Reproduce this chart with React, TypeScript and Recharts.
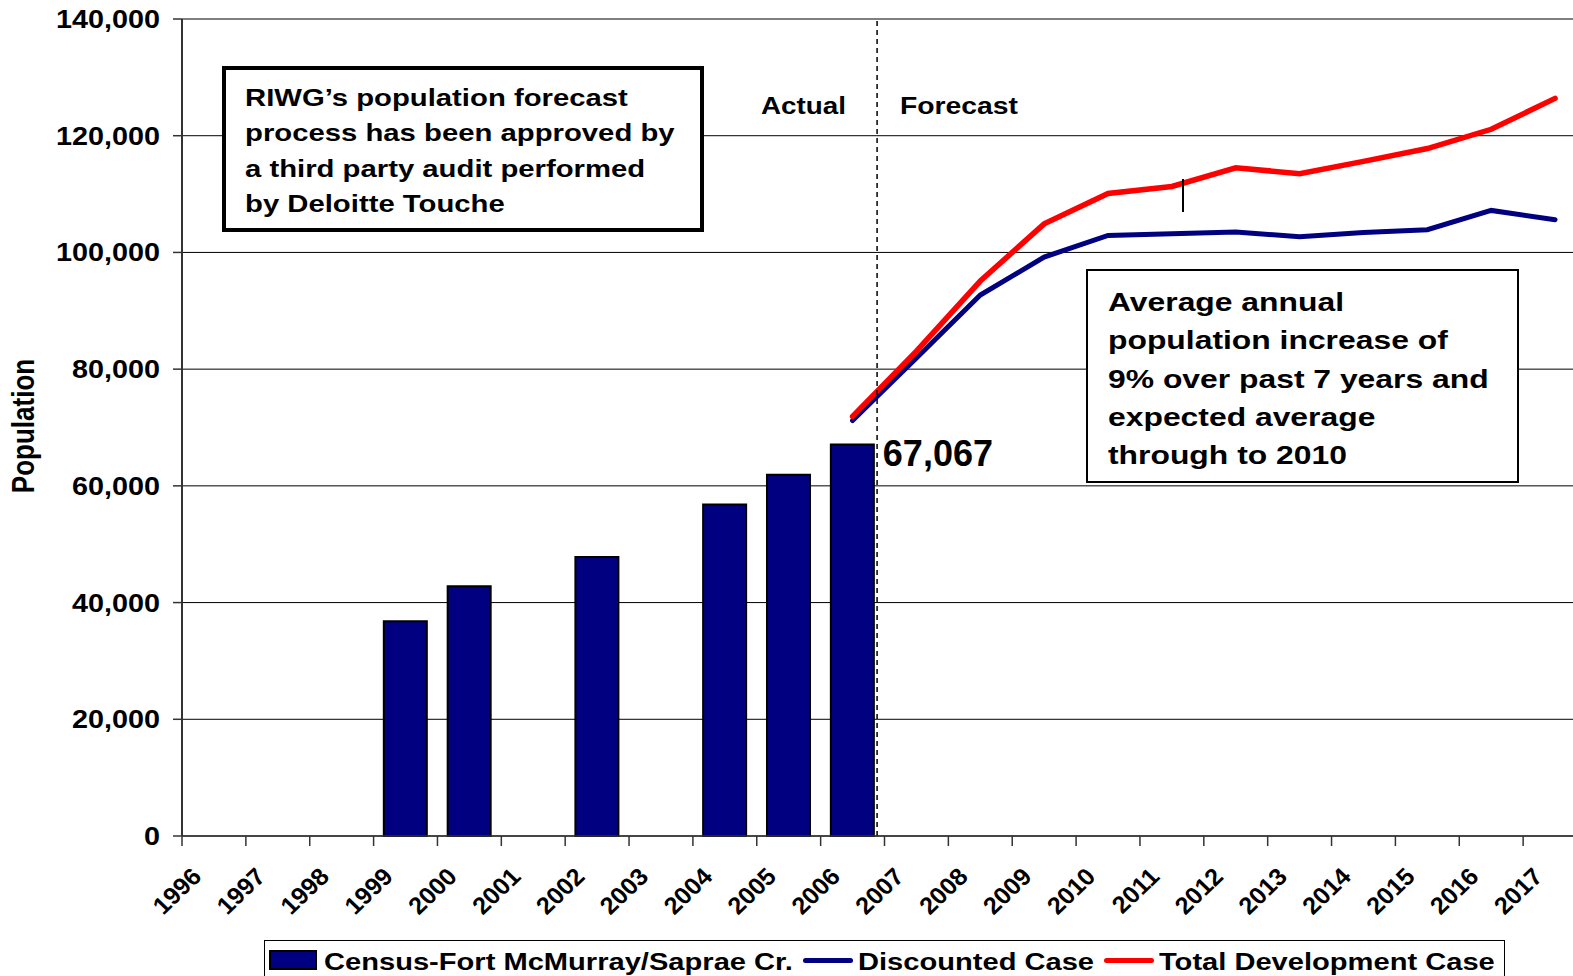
import {
  ComposedChart,
  Bar,
  Line,
  XAxis,
  YAxis,
  CartesianGrid,
  ReferenceLine,
  LabelList,
} from "recharts";

const years = [
  "1996", "1997", "1998", "1999", "2000", "2001", "2002", "2003", "2004", "2005", "2006",
  "2007", "2008", "2009", "2010", "2011", "2012", "2013", "2014", "2015", "2016", "2017",
];

// census counts (actual)
const census = [
  null, null, null, 36800, 42800, null, 47800, null, 56800, 61900, 67067,
  null, null, null, null, null, null, null, null, null, null, null,
];

const discounted = [
  null, null, null, null, null, null, null, null, null, null, 71200,
  81900, 92700, 99200, 102900, 103200, 103500, 102700, 103400, 103900, 107200, 105600,
];

const totalDevelopment = [
  null, null, null, null, null, null, null, null, null, null, 71900,
  83100, 95100, 104900, 110100, 111300, 114500, 113500, 115600, 117800, 121100, 126400,
];

const yTicks = [0, 20000, 40000, 60000, 80000, 100000, 120000, 140000];

const boxLeftLines = [
  "RIWG\u2019s population forecast",
  "process has been approved by",
  "a third party audit performed",
  "by Deloitte Touche",
];

const boxRightLines = [
  "Average annual",
  "population increase of",
  "9% over past 7 years and",
  "expected average",
  "through to 2010",
];

// last actual year; the dashed split sits just before the end of its band
const lastActualYear = "2006";

const data = years.map((year, i) => ({
  year,
  census: census[i],
  discounted: discounted[i],
  totalDevelopment: totalDevelopment[i],
}));

const CHART_W = 1650;
const CHART_H = 976;
const MARGIN = { top: 19, right: 63, left: 0, bottom: 0 };
const Y_AXIS_W = 182;
const X_AXIS_H = 140;
const BAND = (CHART_W - MARGIN.left - MARGIN.right - Y_AXIS_W) / years.length;

const font = '"Liberation Sans", Arial, sans-serif';
const fmt = (v: number) => v.toLocaleString("en-US");

const XTick = (props: any) => {
  const { x, y, payload } = props;
  return (
    <g>
      <line x1={x - BAND / 2} x2={x - BAND / 2} y1={y} y2={y + 10} stroke="#333" strokeWidth={1.5} />
      <text
        transform={`translate(${x - 11},${y + 42}) scale(1.05,1) rotate(-45)`}
        textAnchor="end"
        fontSize={24}
        fontWeight="bold"
        fill="#000"
      >
        {payload.value}
      </text>
    </g>
  );
};

const YTick = (props: any) => {
  const { x, y, payload } = props;
  return (
    <text
      transform={`translate(${x - 11},${y}) scale(1.15,1)`}
      textAnchor="end"
      dy="0.36em"
      fontSize={25}
      fontWeight="bold"
      fill="#000"
    >
      {fmt(payload.value)}
    </text>
  );
};

const SplitLine = (props: any) => {
  const dx = -0.116 * BAND;
  return (
    <line
      x1={props.x1 + dx}
      x2={props.x2 + dx}
      y1={props.y1}
      y2={props.y2}
      stroke="#000"
      strokeWidth={1.5}
      strokeDasharray="5 4"
    />
  );
};

const lastCensus = census[10] as number;

const CensusLabel = (props: any) => {
  const vb = props.viewBox ?? props;
  const { x, y, width } = vb;
  if (props.value !== lastCensus) return null;
  return (
    <text x={x + width + 9} y={y + 21.5} fontSize={36} fontWeight="bold" fill="#000">
      {fmt(props.value)}
    </text>
  );
};

const abs = (left: number, top: number, extra: any = {}) => ({
  position: "absolute" as const,
  left,
  top,
  ...extra,
});

const legendText = {
  fontSize: 23,
  lineHeight: "23px",
  whiteSpace: "pre",
  transform: "scaleX(1.265)",
  transformOrigin: "0 0",
};

export default function App() {
  return (
    <div
      style={{
        position: "fixed",
        left: 0,
        top: 0,
        width: 1573,
        height: 976,
        overflow: "hidden",
        background: "#fff",
        fontFamily: font,
        fontWeight: "bold",
        color: "#000",
      }}
    >
      <ComposedChart width={CHART_W} height={CHART_H} data={data} margin={MARGIN} barCategoryGap="16%">
        <CartesianGrid vertical={false} stroke="#000" strokeWidth={1} />
        <XAxis
          dataKey="year"
          height={X_AXIS_H}
          interval={0}
          tickLine={false}
          tickSize={0}
          tickMargin={0}
          tick={XTick}
          axisLine={{ stroke: "#333", strokeWidth: 1.5 }}
        />
        <YAxis
          width={Y_AXIS_W}
          domain={[0, 140000]}
          ticks={yTicks}
          interval={0}
          tickSize={9}
          tick={YTick}
          tickLine={{ stroke: "#333", strokeWidth: 1.5 }}
          axisLine={{ stroke: "#333", strokeWidth: 2 }}
        />
        <Bar dataKey="census" fill="#000080" stroke="#000" strokeWidth={2} isAnimationActive={false}>
          <LabelList dataKey="census" content={CensusLabel} />
        </Bar>
        <Line
          dataKey="discounted"
          stroke="#000080"
          strokeWidth={5}
          strokeLinecap="round"
          dot={false}
          activeDot={false}
          isAnimationActive={false}
        />
        <Line
          dataKey="totalDevelopment"
          stroke="#ff0000"
          strokeWidth={5.5}
          strokeLinecap="round"
          dot={false}
          activeDot={false}
          isAnimationActive={false}
        />
        <ReferenceLine x={lastActualYear} position="end" shape={SplitLine} />
      </ComposedChart>

      {/* y axis title */}
      <div
        style={abs(22.5 - 100, 426 - 13, {
          width: 200,
          height: 26,
          lineHeight: "26px",
          fontSize: 26,
          textAlign: "center",
          transform: "rotate(-90deg) scaleY(1.2)",
          transformOrigin: "50% 50%",
        })}
      >
        Population
      </div>

      <div style={abs(761, 95, { fontSize: 23, lineHeight: "23px", transform: "scaleX(1.21)", transformOrigin: "0 0", whiteSpace: "pre" })}>
        Actual
      </div>
      <div style={abs(900, 95, { fontSize: 23, lineHeight: "23px", transform: "scaleX(1.23)", transformOrigin: "0 0", whiteSpace: "pre" })}>
        Forecast
      </div>

      {/* stray mark near 2011 */}
      <div style={abs(1182, 179, { width: 2, height: 33, background: "#000" })} />

      <div
        style={abs(222, 66, {
          width: 482,
          height: 166,
          border: "4px solid #000",
          boxSizing: "border-box",
          background: "#fff",
        })}
      >
        <div
          style={abs(19, 10, {
            fontSize: 24,
            lineHeight: "35.4px",
            whiteSpace: "pre",
            transform: "scaleX(1.22)",
            transformOrigin: "0 0",
          })}
        >
          {boxLeftLines.join("\n")}
        </div>
      </div>

      <div
        style={abs(1086, 269, {
          width: 433,
          height: 214,
          border: "2px solid #000",
          boxSizing: "border-box",
          background: "#fff",
        })}
      >
        <div
          style={abs(19.5, 12, {
            fontSize: 26,
            lineHeight: "38.3px",
            whiteSpace: "pre",
            transform: "scaleX(1.225)",
            transformOrigin: "0 0",
          })}
        >
          {boxRightLines.join("\n")}
        </div>
      </div>

      {/* legend */}
      <div
        style={abs(264, 940, {
          width: 1241,
          height: 60,
          border: "1px solid #000",
          boxSizing: "border-box",
          background: "#fff",
        })}
      >
        <div style={abs(4, 9, { width: 48, height: 20, background: "#000080", border: "2px solid #000", boxSizing: "border-box" })} />
        <div style={abs(59, 9.5, legendText)}>Census-Fort McMurray/Saprae Cr.</div>
        <div style={abs(537.5, 16.5, { width: 50, height: 5, borderRadius: 3, background: "#000080" })} />
        <div style={abs(592.5, 9.5, legendText)}>Discounted Case</div>
        <div style={abs(838.5, 16.5, { width: 50, height: 5, borderRadius: 3, background: "#ff0000" })} />
        <div style={abs(893.5, 9.5, legendText)}>Total Development Case</div>
      </div>
    </div>
  );
}
